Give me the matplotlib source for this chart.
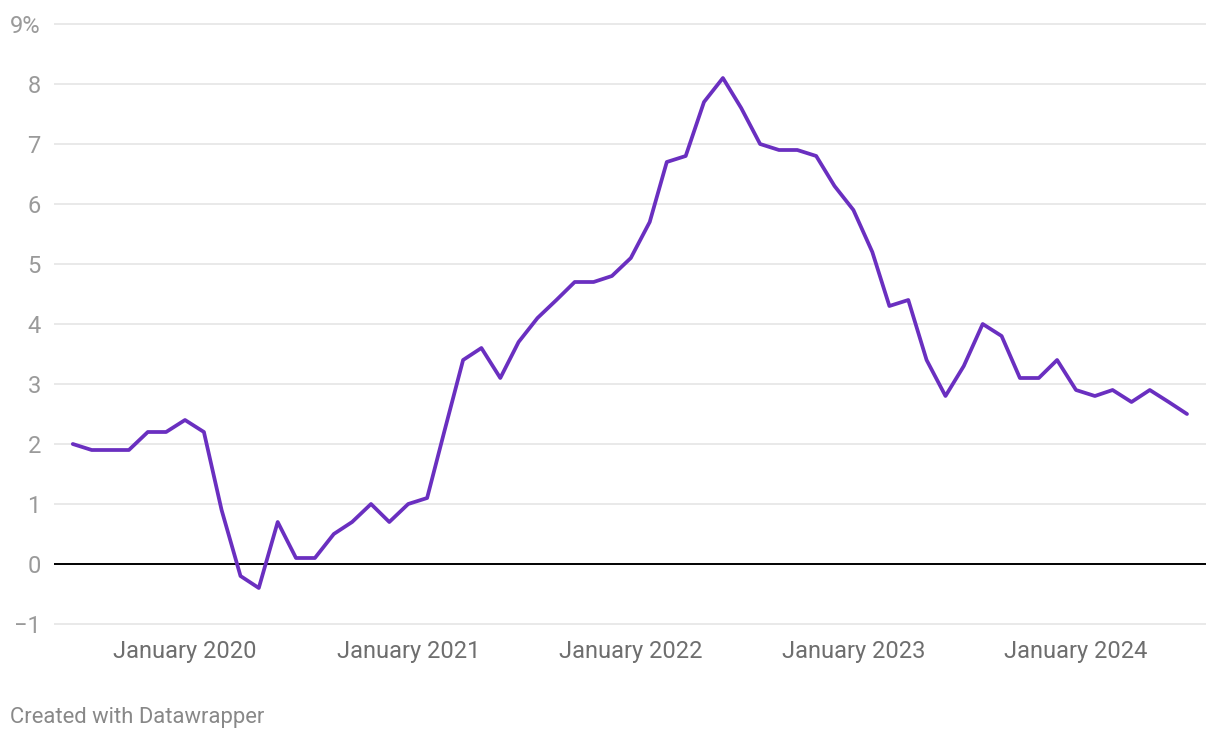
import numpy as np
import pandas as pd
import matplotlib
matplotlib.use("Agg")
import matplotlib.pyplot as plt
import matplotlib.dates as mdates
from matplotlib.ticker import FuncFormatter

plt.rcParams['font.family'] = ['Roboto', 'DejaVu Sans']

# monthly inflation rate, July 2019 - July 2024
months = pd.date_range('2019-07-01', '2024-07-01', freq='MS')
rate = [2.0, 1.9, 1.9, 1.9, 2.2, 2.2,
        2.4, 2.2, 0.9, -0.2, -0.4, 0.7, 0.1, 0.1, 0.5, 0.7, 1.0, 0.7,
        1.0, 1.1, 2.2, 3.4, 3.6, 3.1, 3.7, 4.1, 4.4, 4.7, 4.7, 4.8,
        5.1, 5.7, 6.7, 6.8, 7.7, 8.1, 7.6, 7.0, 6.9, 6.9, 6.8, 6.3,
        5.9, 5.2, 4.3, 4.4, 3.4, 2.8, 3.3, 4.0, 3.8, 3.1, 3.1, 3.4,
        2.9, 2.8, 2.9, 2.7, 2.9, 2.7, 2.5]
yticks = [-1, 0, 1, 2, 3, 4, 5, 6, 7, 8, 9]
xticks = pd.to_datetime(['2020-01-01', '2021-01-01', '2022-01-01', '2023-01-01', '2024-01-01'])
xlabels = ['January 2020', 'January 2021', 'January 2022', 'January 2023', 'January 2024']

fig = plt.figure(figsize=(12.2, 7.4), dpi=100)
ax = fig.add_axes([54 / 1220, 112 / 740, 1152 / 1220, 608 / 740])

for y in yticks:
    if y == 0:
        continue
    ax.axhline(y, color='#e3e3e3', lw=1.1, zorder=1)
ax.axhline(0, color='#000000', lw=1.4, zorder=2)

ax.plot(months, rate, color='#6a2fc0', lw=2.7, solid_joinstyle='round',
        solid_capstyle='round', zorder=3)

# x range: pixel 54 -> 1206, Jan 2020 at 185, Jan 2024 at 1076
ppd = (1076 - 185) / 1461.0
x0 = mdates.date2num(pd.Timestamp('2020-01-01')) - 131 / ppd
x1 = mdates.date2num(pd.Timestamp('2024-01-01')) + 130 / ppd
ax.set_xlim(x0, x1)
ax.set_ylim(-1 - 4 / 60, 9 + 4 / 60)

ax.set_yticks(yticks)
ax.yaxis.set_major_formatter(FuncFormatter(
    lambda v, p: '9%' if v == 9 else ('\u2212%d' % abs(v) if v < 0 else '%d' % v)))
ax.set_xticks(xticks)
ax.set_xticklabels(xlabels)

ax.tick_params(axis='y', length=0, pad=9.5, labelsize=17, labelcolor='#9a9a9a')
ax.tick_params(axis='x', length=0, pad=8.5, labelsize=17, labelcolor='#6e6e6e')
for s in ax.spines.values():
    s.set_visible(False)

fig.text(10 / 1220, 1 - 718 / 740, 'Created with Datawrapper', fontsize=15.8,
         color='#888888', ha='left', va='center')

fig.savefig('out.png', dpi=100, facecolor='white')
